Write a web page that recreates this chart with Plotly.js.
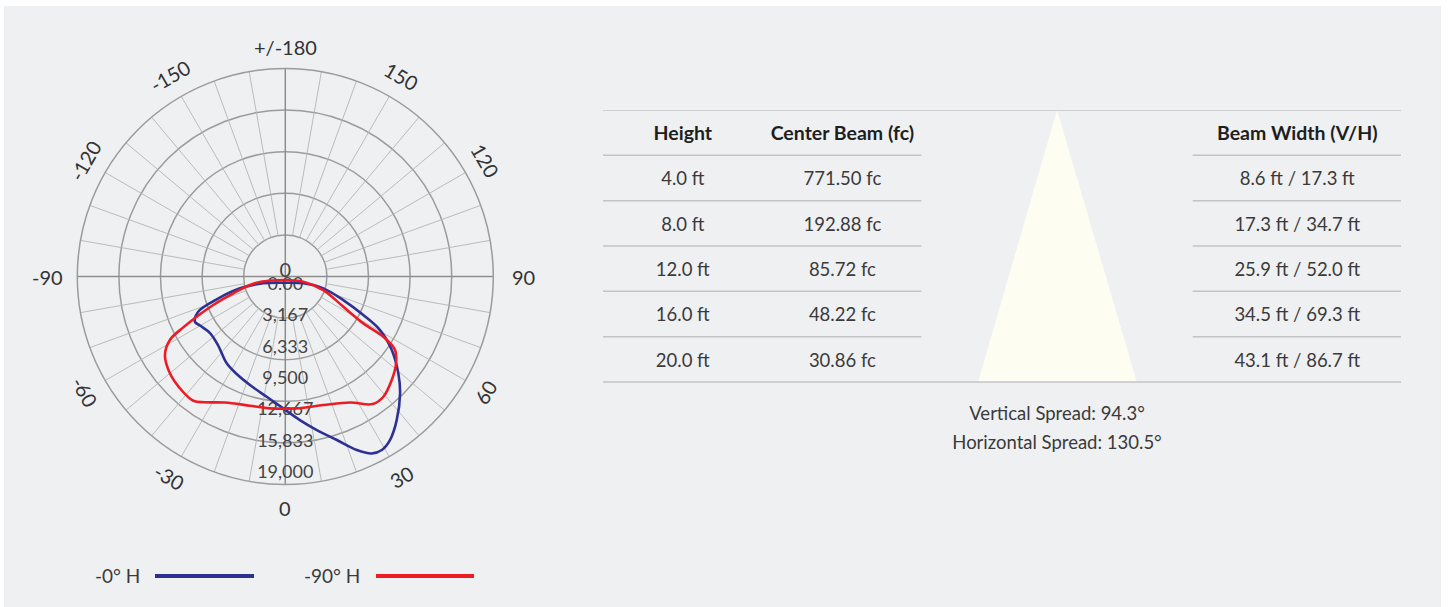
<!DOCTYPE html>
<html>
<head>
<meta charset="utf-8">
<script src="https://cdn.plot.ly/plotly-3.0.1.min.js"></script>
<style>
html,body{margin:0;padding:0;background:#ffffff;}
#chart{width:1449px;height:607px;}
</style>
</head>
<body>
<div id="chart"></div>
<script>
// ---------------- DATA ----------------
const seriesNames = ['-0° H', '-90° H'];

// -0° H (blue) photometric curve, traced around the loop
const h0Theta = [0, 69.3, 72.7, 67.9, 63.7, 60.5, 55.4, 49.4, 44.5, 37.8, 32.6, 29.1, 26.0, 22.4, 17.5, 11.6, 5.8, -0.9, -8.8, -18.0, -26.5, -34.0, -44.5, -53.1, -60.1, -63.4, -68.0, -71.6, -75.4, -72.8, 0];
const h0R     = [626, 1942, 4018, 6320, 8785, 10985, 13060, 15030, 16535, 18350, 19610, 20045, 19875, 18950, 17310, 15825, 14570, 13315, 12285, 11525, 11000, 10575, 9700, 9505, 9935, 10200, 9480, 7300, 4730, 2325, 626];

// -90° H (red) photometric curve
const h90Theta = [0, 73.9, 70.4, 62.5, 59.0, 58.4, 56.2, 51.9, 45.8, 39.2, 34.4, 27.2, 16.5, 4.9, -6.6, -15.3, -25.6, -32.6, -36.5, -43.3, -50.0, -56.9, -61.2, -63.5, -65.6, -68.4, -72.1, -77.8, 0];
const h90R     = [350, 1890, 4070, 6605, 9190, 11615, 13335, 14210, 14990, 15665, 15610, 14300, 13535, 13360, 13400, 13525, 14110, 15070, 15610, 15510, 15205, 14505, 13295, 11510, 9825, 7820, 5520, 2955, 350];

const angleTickVals = [0, 30, 60, 90, 120, 150, 180, -150, -120, -90, -60, -30];
const angleTickText = ['0', '30', '60', '90', '120', '150', '+/-180', '-150', '-120', '-90', '-60', '-30'];

const radialTickVals = [0, 3167, 6333, 9500, 12667, 15833, 19000];
const radialTickText = ['0.00', '3,167', '6,333', '9,500', '12,667', '15,833', '19,000'];

const tableHeaders = ['Height', 'Center Beam (fc)', 'Beam Width (V/H)'];
const heights    = ['4.0 ft', '8.0 ft', '12.0 ft', '16.0 ft', '20.0 ft'];
const centerBeam = ['771.50 fc', '192.88 fc', '85.72 fc', '48.22 fc', '30.86 fc'];
const beamWidth  = ['8.6 ft / 17.3 ft', '17.3 ft / 34.7 ft', '25.9 ft / 52.0 ft', '34.5 ft / 69.3 ft', '43.1 ft / 86.7 ft'];

const verticalSpread = 94.3;
const horizontalSpread = 130.5;

// ---------------- LAYOUT CONSTANTS ----------------
const W = 1449, H = 607;
const FONT = 'Lato, "Open Sans", "DejaVu Sans", sans-serif';
const BG = '#eff0f2';
const TXT = '#3a3a3a';
const P = {cx: 285.3, cy: 276.5, R: 208};   // polar centre / radius in px
const RMAX = 21000;
const ringVals = [1, 2, 3, 4].map(k => k * RMAX / 5);

// table geometry (axis units; one row = 45.33 px)
const ROW_PX = 45.333;
const Y_TOP = -0.5, Y_BOT = 7.2;
const colX = [1.0, 3.0, 8.7];
const leftBlock = [0, 3.99];
const rightBlock = [7.39, 10];
const coneX = [4.7, 5.69, 6.69];
const TDY = 0.06; // small vertical text nudge

// ---------------- TRACES ----------------
const traces = [];

// spokes (every 10°, from first ring outwards)
const spokeR = [], spokeT = [];
for (let a = 0; a < 360; a += 10) {
  if (a % 90 === 0) continue;
  spokeR.push(RMAX / 5, RMAX, null);
  spokeT.push(a, a, null);
}
traces.push({type: 'scatterpolar', mode: 'lines', r: spokeR, theta: spokeT,
  line: {color: '#b4b4b4', width: 0.9}, hoverinfo: 'skip', showlegend: false});

// main cross
const crossR = [], crossT = [];
[0, 90, 180, 270].forEach(a => { crossR.push(0, RMAX, null); crossT.push(a, a, null); });
traces.push({type: 'scatterpolar', mode: 'lines', r: crossR, theta: crossT,
  line: {color: '#8e8e8e', width: 1.5}, hoverinfo: 'skip', showlegend: false});

// radial labels
traces.push({type: 'scatterpolar', mode: 'text', r: radialTickVals,
  theta: radialTickVals.map(() => 0), text: radialTickText, textposition: 'bottom center',
  textfont: {family: FONT, size: 18, color: '#444'}, cliponaxis: false, hoverinfo: 'skip', showlegend: false});
traces.push({type: 'scatterpolar', mode: 'text', r: [500], theta: [180], text: ['0'],
  textposition: 'middle center', textfont: {family: FONT, size: 20, color: '#444'},
  cliponaxis: false, hoverinfo: 'skip', showlegend: false});

// curves
traces.push({type: 'scatterpolar', mode: 'lines', name: seriesNames[0], r: h0R, theta: h0Theta,
  line: {color: '#2e3192', width: 2.6, shape: 'spline', smoothing: 1}, showlegend: false});
traces.push({type: 'scatterpolar', mode: 'lines', name: seriesNames[1], r: h90R, theta: h90Theta,
  line: {color: '#ed1c24', width: 2.6, shape: 'spline', smoothing: 1}, showlegend: false});

// cone triangle
traces.push({type: 'scatter', xaxis: 'x', yaxis: 'y', mode: 'lines', fill: 'toself',
  x: [coneX[0], coneX[1], coneX[2], coneX[0]], y: [5.5, -0.5, 5.5, 5.5],
  fillcolor: '#fdfdf2', line: {width: 0}, hoverinfo: 'skip', showlegend: false});

// table header
traces.push({type: 'scatter', xaxis: 'x', yaxis: 'y', mode: 'text',
  x: colX, y: [TDY, TDY, TDY], text: tableHeaders,
  textfont: {family: FONT, size: 19.5, color: '#1e1e1e', weight: 'bold'},
  cliponaxis: false, hoverinfo: 'skip', showlegend: false});

// table body
const rows = heights.map((_, i) => i + 1 + TDY);
[heights, centerBeam, beamWidth].forEach((col, ci) => {
  traces.push({type: 'scatter', xaxis: 'x', yaxis: 'y', mode: 'text',
    x: col.map(() => colX[ci]), y: rows, text: col,
    textfont: {family: FONT, size: 18.5, color: TXT},
    cliponaxis: false, hoverinfo: 'skip', showlegend: false});
});

// spreads
traces.push({type: 'scatter', xaxis: 'x', yaxis: 'y', mode: 'text',
  x: [coneX[1], coneX[1]], y: [6.18 + TDY, 6.82 + TDY],
  text: ['Vertical Spread: ' + verticalSpread + '°', 'Horizontal Spread: ' + horizontalSpread + '°'],
  textfont: {family: FONT, size: 18.5, color: TXT},
  cliponaxis: false, hoverinfo: 'skip', showlegend: false});

// ---------------- SHAPES / ANNOTATIONS ----------------
const shapes = [];
shapes.push({type: 'rect', xref: 'paper', yref: 'paper', x0: 4 / W, x1: 1441 / W, y0: 0, y1: 1 - 6 / H,
  fillcolor: BG, line: {width: 0}, layer: 'below'});

for (let i = 0; i <= 6; i++) {
  const y = i - 0.5;
  const segs = (i === 0 || i === 6) ? [[0, 10]] : [leftBlock, rightBlock];
  segs.forEach(s => shapes.push({type: 'line', xref: 'x', yref: 'y', x0: s[0], x1: s[1], y0: y, y1: y,
    line: {color: '#c3c4c6', width: 1.5}}));
}

// legend
const legendItems = [
  {text: seriesNames[0], color: '#2e3192', tx: 142, l0: 155, l1: 254},
  {text: seriesNames[1], color: '#ed1c24', tx: 362, l0: 376, l1: 474}
];
const legY = 1 - 576 / H;
const annotations = [];
legendItems.forEach(it => {
  shapes.push({type: 'line', xref: 'paper', yref: 'paper', x0: it.l0 / W, x1: it.l1 / W, y0: legY, y1: legY,
    line: {color: it.color, width: 4}});
  annotations.push({xref: 'paper', yref: 'paper', x: it.tx / W, y: legY + 0.001, xanchor: 'right', yanchor: 'middle',
    text: it.text, showarrow: false, font: {family: FONT, size: 19, color: TXT}});
});

// angular labels (rotated tangentially)
angleTickVals.forEach((a, i) => {
  const rad = a * Math.PI / 180;
  const d = (Math.abs(a) === 90) ? 238 : (a === 180 ? 229.5 : 231.5);
  const px = P.cx + d * Math.sin(rad);
  const py = P.cy + d * Math.cos(rad);
  let ang;
  if (a === 0 || a === 180 || Math.abs(a) === 90) ang = 0;
  else if (Math.abs(a) < 90) ang = -a;
  else ang = (a > 0 ? 180 : -180) - a;
  annotations.push({xref: 'paper', yref: 'paper', x: px / W, y: 1 - py / H, xanchor: 'center', yanchor: 'middle',
    text: angleTickText[i], textangle: ang, showarrow: false, font: {family: FONT, size: 20, color: '#333'}});
});

const yTopPx = 110, yBotPx = 110 + (Y_BOT - Y_TOP) * ROW_PX;

const layout = {
  width: W, height: H,
  margin: {l: 0, r: 0, t: 0, b: 0, pad: 0},
  paper_bgcolor: '#ffffff', plot_bgcolor: 'rgba(0,0,0,0)',
  showlegend: false,
  font: {family: FONT, color: TXT},
  polar: {
    domain: {x: [(P.cx - P.R) / W, (P.cx + P.R) / W], y: [1 - (P.cy + P.R) / H, 1 - (P.cy - P.R) / H]},
    bgcolor: 'rgba(0,0,0,0)',
    angularaxis: {rotation: -90, direction: 'counterclockwise', showgrid: false, showticklabels: false,
      ticks: '', showline: true, linecolor: '#9b9b9b', linewidth: 1.5},
    radialaxis: {range: [0, RMAX], tickmode: 'array', tickvals: ringVals, showticklabels: false, ticks: '',
      showline: false, gridcolor: '#9b9b9b', gridwidth: 1.5}
  },
  xaxis: {domain: [603 / W, 1401 / W], range: [0, 10], visible: false, fixedrange: true},
  yaxis: {domain: [1 - yBotPx / H, 1 - yTopPx / H], range: [Y_BOT, Y_TOP], visible: false, fixedrange: true},
  shapes: shapes,
  annotations: annotations
};

Plotly.newPlot('chart', traces, layout, {displayModeBar: false, staticPlot: true});
</script>
</body>
</html>
